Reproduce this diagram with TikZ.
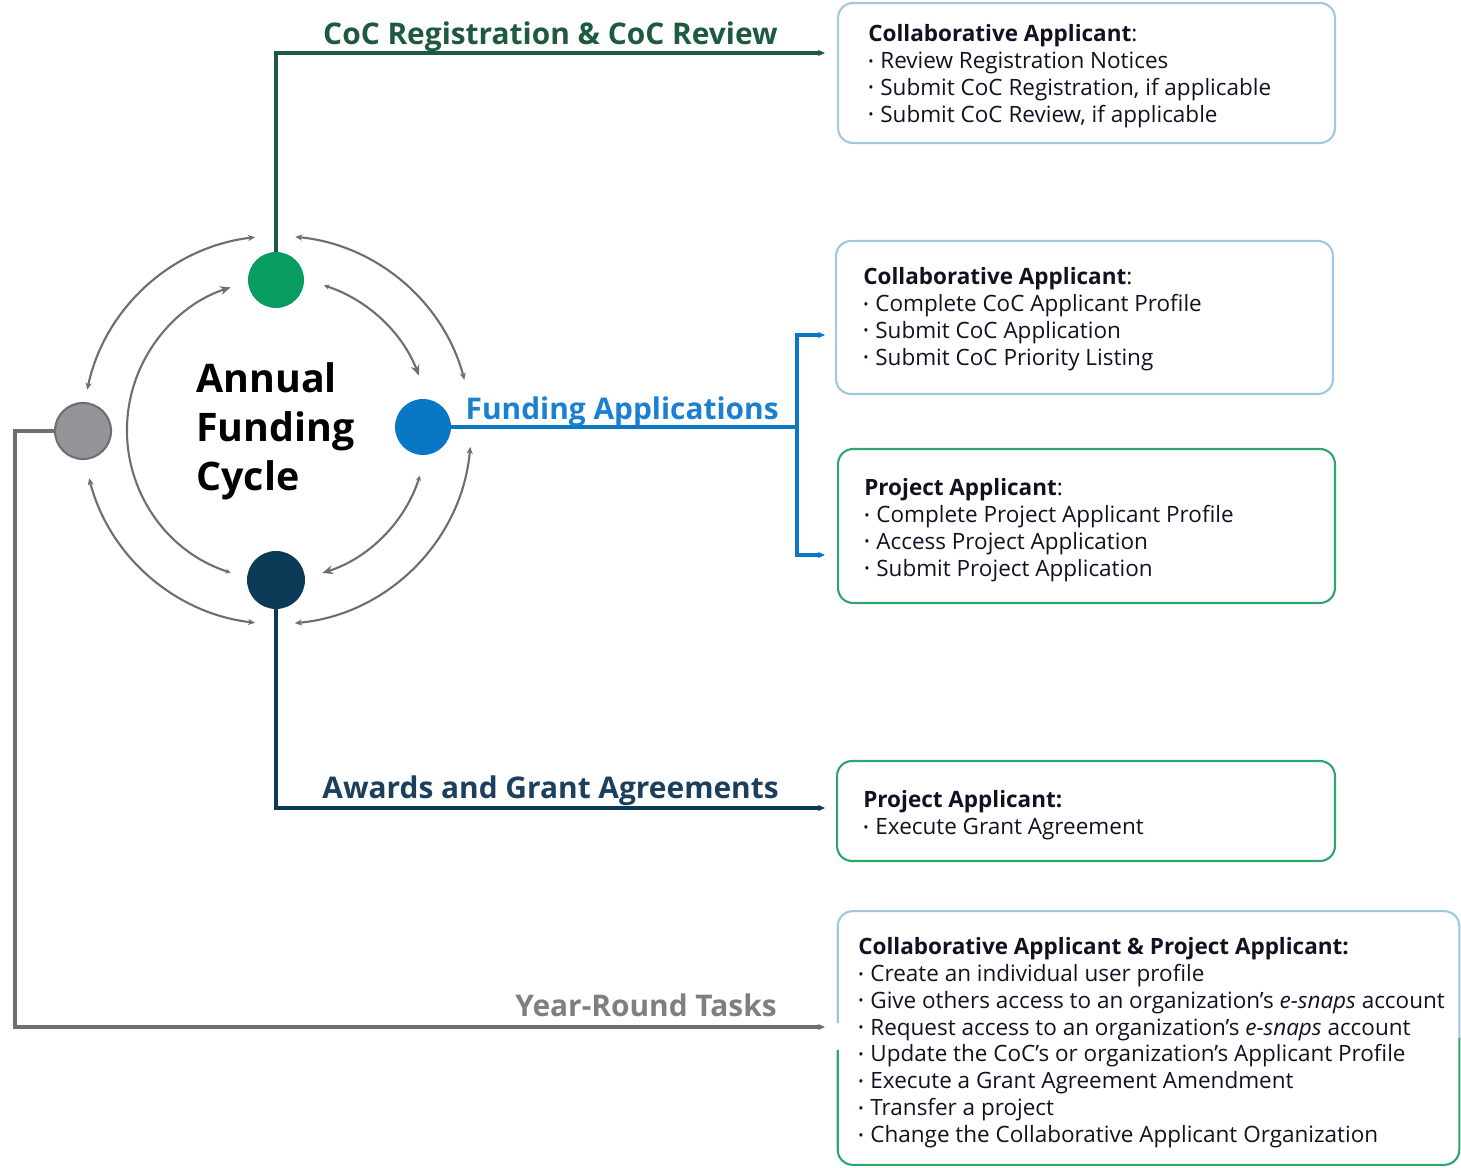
\documentclass[tikz,border=0pt]{standalone}
\usepackage{fontspec}
\setmainfont{Open Sans}
\usetikzlibrary{arrows.meta}
\definecolor{cgreen}{HTML}{089C62}
\definecolor{cgreenln}{HTML}{1D5A3E}
\definecolor{cblue}{HTML}{0A77C5}
\definecolor{cbluetx}{HTML}{1B80D2}
\definecolor{cnavy}{HTML}{0B3A57}
\definecolor{cnavytx}{HTML}{1C3F5C}
\definecolor{cgrayf}{HTML}{939598}
\definecolor{cgrayb}{HTML}{6E6F73}
\definecolor{cgraytx}{HTML}{7F7F7F}
\definecolor{carc}{HTML}{6D6E75}
\definecolor{cboxblue}{HTML}{A0C8E2}
\definecolor{cboxgreen}{HTML}{2EA56C}
\definecolor{ctext}{HTML}{111122}
\newcommand\bul{\raisebox{0.1em}{\footnotesize\textbullet}\hspace{0.3em}}
\begin{document}
\begin{tikzpicture}[x=0.02cm,y=0.02cm,
  dot/.style={circle, inner sep=0pt, minimum size=1.12cm},
  conn/.style={line width=1.8pt, -{Stealth[length=4pt,width=3.5pt]}},
  outarc/.style={carc, line width=1.2pt, {Stealth[length=4pt,width=3.5pt]}-{Stealth[length=4pt,width=3.5pt]}},
  inarc/.style={carc, line width=1.2pt, {Stealth[length=3pt,width=3pt]}-{Stealth[length=6pt,width=5pt]}},
  box/.style={draw, rounded corners=0.3cm, line width=1.2pt, inner sep=0pt},
  boxtxt/.style={anchor=north west, inner sep=0pt, align=left, text=ctext,
     font=\fontsize{12.8}{15.3}\selectfont},
  head/.style={anchor=base east, inner sep=0pt, font=\fontsize{17}{20}\selectfont\bfseries}
]
\useasboundingbox (0,0) rectangle (1461,1167);

% cycle circles
\node[dot, fill=cgreen] (g) at (276,887) {};
\node[dot, fill=cblue] (bl) at (423,740) {};
\node[dot, fill=cnavy, minimum size=1.16cm] (nv) at (276,587) {};
\node[dot, fill=cgrayf, draw=cgrayb, line width=1.2pt] (gy) at (83,736) {};

\node[anchor=west, inner sep=0pt, align=left, font=\fontsize{22.4}{27.8}\selectfont\bfseries]
  (title) at (196,736) {Annual\\Funding\\Cycle};

% arcs
\coordinate (c) at (277,737);
\draw[outarc] (c) ++(96.5:194) arc[start angle=96.5, end angle=168, radius=194];
\draw[outarc] (c) ++(84.6:194) arc[start angle=84.6, end angle=15, radius=194];
\draw[outarc] (c) ++(-5:194) arc[start angle=-5, end angle=-84.7, radius=194];
\draw[outarc] (c) ++(-96.5:194) arc[start angle=-96.5, end angle=-165.6, radius=194];
\draw[inarc] (c) ++(72:152) arc[start angle=72, end angle=21, radius=152];
\draw[inarc] (c) ++(-17.7:150) arc[start angle=-17.7, end angle=-72.4, radius=150];
\draw[inarc] (c) ++(-108:150) arc[start angle=-108, end angle=-252, radius=150];

% boxes
\node[box, draw=cboxblue, minimum width=9.94cm, minimum height=2.8cm] (b1) at (1086.5,1094) {};
\node[box, draw=cboxblue, minimum width=9.94cm, minimum height=3.06cm] (b2) at (1084.5,849.5) {};
\node[box, draw=cboxgreen, minimum width=9.94cm, minimum height=3.08cm] (b3) at (1086.5,641) {};
\node[box, draw=cboxgreen, minimum width=9.96cm, minimum height=2.0cm] (b4) at (1086,356) {};
\node[inner sep=0pt, minimum width=12.42cm, minimum height=5.06cm] (b5) at (1148.5,129) {};
\draw[cboxblue, line width=1.2pt, rounded corners=0.3cm] ([yshift=0.3cm]b5.west) |- (b5.north east) -- (b5.east);
\draw[cboxgreen, line width=1.2pt, rounded corners=0.3cm] ([yshift=-0.24cm]b5.west) |- (b5.south east) -- (b5.east);

\node[boxtxt] (t1) at (868,1143) {\textbf{Collaborative Applicant}:\\
\bul Review Registration Notices\\
\bul Submit CoC Registration, if applicable\\
\bul Submit CoC Review, if applicable};
\node[boxtxt] (t2) at (863,900) {\textbf{Collaborative Applicant}:\\
\bul Complete CoC Applicant Profile\\
\bul Submit CoC Application\\
\bul Submit CoC Priority Listing};
\node[boxtxt] (t3) at (864,689) {\textbf{Project Applicant}:\\
\bul Complete Project Applicant Profile\\
\bul Access Project Application\\
\bul Submit Project Application};
\node[boxtxt] (t4) at (863,377) {\textbf{Project Applicant:}\\
\bul Execute Grant Agreement};
\node[boxtxt] (t5) at (858,230) {\textbf{Collaborative Applicant \& Project Applicant:}\\
\bul Create an individual user profile\\
\bul Give others access to an organization’s \textit{e-snaps} account\\
\bul Request access to an organization’s \textit{e-snaps} account\\
\bul Update the CoC’s or organization’s Applicant Profile\\
\bul Execute a Grant Agreement Amendment\\
\bul Transfer a project\\
\bul Change the Collaborative Applicant Organization};

% connector end points
\coordinate (e1) at (825,1114);
\coordinate (bj) at (797,740);
\coordinate (e2) at (825,832);
\coordinate (e3) at (825,612);
\coordinate (e4) at (825,359);
\coordinate (gc) at (15,140);
\coordinate (e5) at (825,140);

\draw[conn, cgreenln] (g.north) |- (e1);
\draw[line width=1.8pt, cblue] (bl.east) -- (bj);
\draw[conn, cblue] (bj) |- (e2);
\draw[conn, cblue] (bj) |- (e3);
\draw[conn, cnavy] (nv.south) |- (e4);
\draw[conn, cgrayb] (gy.west) -| (gc) -- (e5);

% heading labels
\node[head, text=cgreenln] (h1) at (778,1122) {CoC Registration \& CoC Review};
\node[head, text=cbluetx] (h2) at (779,747) {Funding Applications};
\node[head, text=cnavytx] (h3) at (779,368) {Awards and Grant Agreements};
\node[head, text=cgraytx] (h4) at (777,151) {Year-Round Tasks};
\end{tikzpicture}
\end{document}
